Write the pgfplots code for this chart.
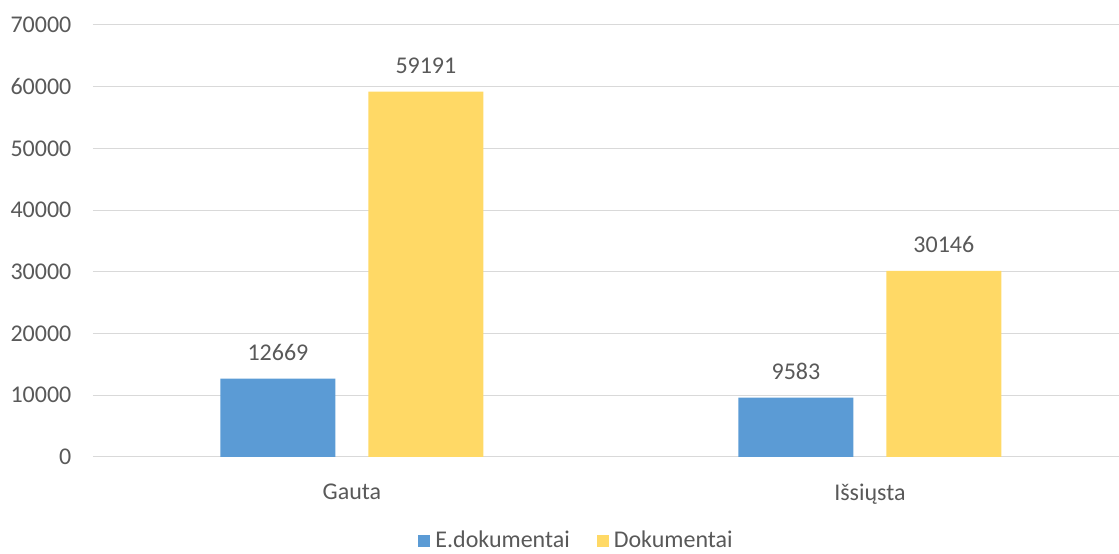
\documentclass[border=0pt]{standalone}
\usepackage{pgfplots}
\pgfplotsset{compat=1.18}
\usepackage{fontspec}
\setmainfont{Carlito}
\definecolor{cblue}{HTML}{5B9BD5}
\definecolor{cyellow}{HTML}{FFD966}
\definecolor{cgrid}{HTML}{D9D9D9}
\definecolor{ctext}{HTML}{595959}
\begin{document}
\begin{tikzpicture}[x=0.75pt,y=0.75pt]
\fontsize{18}{22}\selectfont
\begin{axis}[
  name=ax,
  scale only axis,
  width=769.5pt, height=324pt,
  xmin=-0.5, xmax=1.48,
  ymin=0, ymax=70000,
  ytick={0,10000,...,70000},
  scaled y ticks=false,
  xtick={0,1},
  xticklabels={Gauta,Išsiųsta},
  ybar=24.75pt,
  bar width=86.25pt,
  axis lines*=left,
  x axis line style={cgrid, line width=0.75pt},
  y axis line style={draw=none},
  ymajorgrids,
  grid style={cgrid, line width=0.75pt},
  major tick length=0pt,
  ytick style={draw=none},
  xtick style={draw=none},
  tick label style={font=\fontsize{18}{22}\selectfont, text=ctext},
  /pgf/number format/assume math mode=true,
  /pgf/number format/1000 sep={},
  yticklabel style={xshift=-10pt},
  xticklabel style={yshift=-14pt},
  nodes near coords,
  every node near coord/.append style={font=\fontsize{18}{22}\selectfont, text=ctext, anchor=south, inner sep=0pt, yshift=13.5pt, /pgf/number format/assume math mode=true, /pgf/number format/1000 sep={}},
  clip=false,
  legend style={at={(rel axis cs:0.473,-0.194)}, anchor=center, draw=none, legend columns=2, font=\fontsize{18}{22}\selectfont, text=ctext, /tikz/every even column/.append style={column sep=16pt}, inner sep=0pt, nodes={inner xsep=4pt}},
  legend image code/.code={\fill[#1] (0pt,-4.5pt) rectangle (9pt,4.5pt);},
]
\addplot[fill=cblue, draw=none] coordinates {(0,12669) (1,9583)};
\addplot[fill=cyellow, draw=none] coordinates {(0,59191) (1,30146)};
\legend{E.dokumentai, Dokumentai}
\end{axis}
\path (ax.south west) ++(-69.75pt,-69.75pt) coordinate (bl);
\path (ax.north east) ++(0pt,18.75pt) coordinate (tr);
\path[use as bounding box] (bl) rectangle (tr);
\end{tikzpicture}
\end{document}
